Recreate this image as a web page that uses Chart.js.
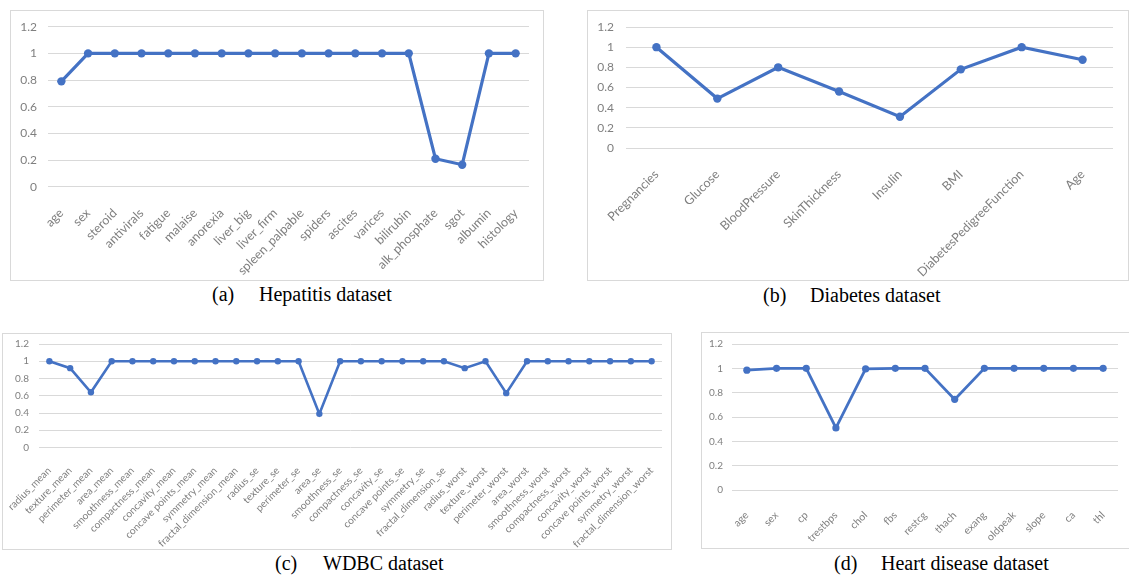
<!DOCTYPE html>
<html>
<head>
<meta charset="utf-8">
<script src="https://cdn.jsdelivr.net/npm/chart.js@4.4.0/dist/chart.umd.min.js"></script>
<style>
  body { margin: 0; width: 1129px; height: 575px; overflow: hidden; background: #fff; position: relative; }
  .panel { position: absolute; border: 1px solid #d9d9d9; box-sizing: border-box; }
  .panel canvas { position: absolute; left: 0; top: 0; }
  .cap { position: absolute; font-family: "Liberation Serif", "Times New Roman", serif; font-size: 20px; line-height: 20px; color: #000; white-space: nowrap; }
</style>
</head>
<body>
<div class="panel" style="left:10px;top:10px;width:534px;height:271px"><canvas id="hep" width="532" height="269"></canvas></div>
<div class="panel" style="left:587px;top:10px;width:542px;height:271px"><canvas id="dia" width="540" height="269"></canvas></div>
<div class="panel" style="left:2px;top:333px;width:670px;height:217px"><canvas id="wdbc" width="668" height="215"></canvas></div>
<div class="panel" style="left:701px;top:332px;width:440px;height:217px"><canvas id="heart" width="438" height="215"></canvas></div>

<div class="cap" style="left:212px;top:284px">(a)</div>
<div class="cap" style="left:259px;top:284px">Hepatitis dataset</div>
<div class="cap" style="left:763px;top:285px">(b)</div>
<div class="cap" style="left:810px;top:285px">Diabetes dataset</div>
<div class="cap" style="left:275px;top:553px">(c)</div>
<div class="cap" style="left:323px;top:553px">WDBC dataset</div>
<div class="cap" style="left:834px;top:553px">(d)</div>
<div class="cap" style="left:881px;top:553px">Heart disease dataset</div>

<script>
// feature scores
const hepLabels = ["age", "sex", "steroid", "antivirals", "fatigue", "malaise", "anorexia", "liver_big", "liver_firm",
  "spleen_palpable", "spiders", "ascites", "varices", "bilirubin", "alk_phosphate", "sgot", "albumin", "histology"];
const hepValues = [0.79, 1, 1, 1, 1, 1, 1, 1, 1, 1, 1, 1, 1, 1, 0.21, 0.165, 1, 1];

const diaLabels = ["Pregnancies", "Glucose", "BloodPressure", "SkinThickness", "Insulin", "BMI", "DiabetesPedigreeFunction", "Age"];
const diaValues = [1, 0.49, 0.8, 0.56, 0.31, 0.78, 1, 0.875];

const wdbcLabels = ["radius_mean", "texture_mean", "perimeter_mean", "area_mean", "smoothness_mean", "compactness_mean",
  "concavity_mean", "concave points_mean", "symmetry_mean", "fractal_dimension_mean", "radius_se", "texture_se",
  "perimeter_se", "area_se", "smoothness_se", "compactness_se", "concavity_se", "concave points_se", "symmetry_se",
  "fractal_dimension_se", "radius_worst", "texture_worst", "perimeter_worst", "area_worst", "smoothness_worst",
  "compactness_worst", "concavity_worst", "concave points_worst", "symmetry_worst", "fractal_dimension_worst"];
const wdbcValues = [1, 0.92, 0.64, 1, 1, 1, 1, 1, 1, 1, 1, 1, 1, 0.39, 1, 1, 1, 1, 1, 1, 0.92, 1, 0.63, 1, 1, 1, 1, 1, 1, 1];

const heartLabels = ["age", "sex", "cp", "trestbps", "chol", "fbs", "restcg", "thach", "exang", "oldpeak", "slope", "ca", "thl"];
const heartValues = [0.985, 1, 1, 0.51, 0.995, 1, 1, 0.745, 1, 1, 1, 1, 1];

const yMin = 0, yMax = 1.2, yStep = 0.2;

const blue = "#4472C4";
const fontFam = "Lato, 'Liberation Sans', sans-serif";

function drawPanel(id, labels, values, s) {
  const ctx = document.getElementById(id).getContext("2d");
  return new Chart(ctx, {
    type: "line",
    data: {
      labels: labels,
      datasets: [{
        data: values,
        borderColor: blue,
        backgroundColor: blue,
        borderWidth: s.line,
        pointRadius: s.point,
        pointBorderWidth: 0,
        tension: 0,
      }],
    },
    options: {
      responsive: false,
      animation: false,
      events: [],
      plugins: { legend: { display: false }, tooltip: { enabled: false } },
      layout: { padding: { left: 0, top: s.top, right: s.right, bottom: 0 } },
      scales: {
        x: {
          offset: true,
          grid: { display: false },
          border: { display: false },
          ticks: {
            autoSkip: false,
            minRotation: 45,
            maxRotation: 45,
            padding: s.xPad,
            color: "#7f7f7f",
            font: { family: fontFam, size: s.xFont },
          },
          afterFit: (scale) => {
            scale.height = s.xH;
            scale.paddingLeft = 0;
            scale.paddingRight = 0;
          },
        },
        y: {
          min: yMin,
          max: yMax,
          grid: { color: "#d9d9d9", lineWidth: 1, drawTicks: false },
          border: { display: false },
          ticks: {
            stepSize: yStep,
            padding: s.yPad,
            color: "#7f7f7f",
            font: { family: fontFam, size: s.yFont },
            callback: (v) => String(+v.toFixed(1)),
          },
          afterFit: (scale) => {
            scale.width = s.yW;
            scale.paddingTop = 0;
            scale.paddingBottom = 0;
          },
        },
      },
    },
  });
}

drawPanel("hep", hepLabels, hepValues, { top: 15.7, right: 14, xH: 93.3, yW: 37, xPad: 11, yPad: 11, xFont: 12.5, yFont: 12, line: 3.2, point: 4.2 });
drawPanel("dia", diaLabels, diaValues, { top: 16, right: 15, xH: 132, yW: 38, xPad: 11, yPad: 12, xFont: 12.5, yFont: 12, line: 3.2, point: 4.2 });
drawPanel("wdbc", wdbcLabels, wdbcValues, { top: 10, right: 9, xH: 101.5, yW: 36, xPad: 9, yPad: 10, xFont: 10.2, yFont: 10, line: 2.6, point: 3.2 });
drawPanel("heart", heartLabels, heartValues, { top: 11, right: 22, xH: 58, yW: 30, xPad: 11, yPad: 9, xFont: 10.5, yFont: 10, line: 2.8, point: 3.6 });
</script>
</body>
</html>
